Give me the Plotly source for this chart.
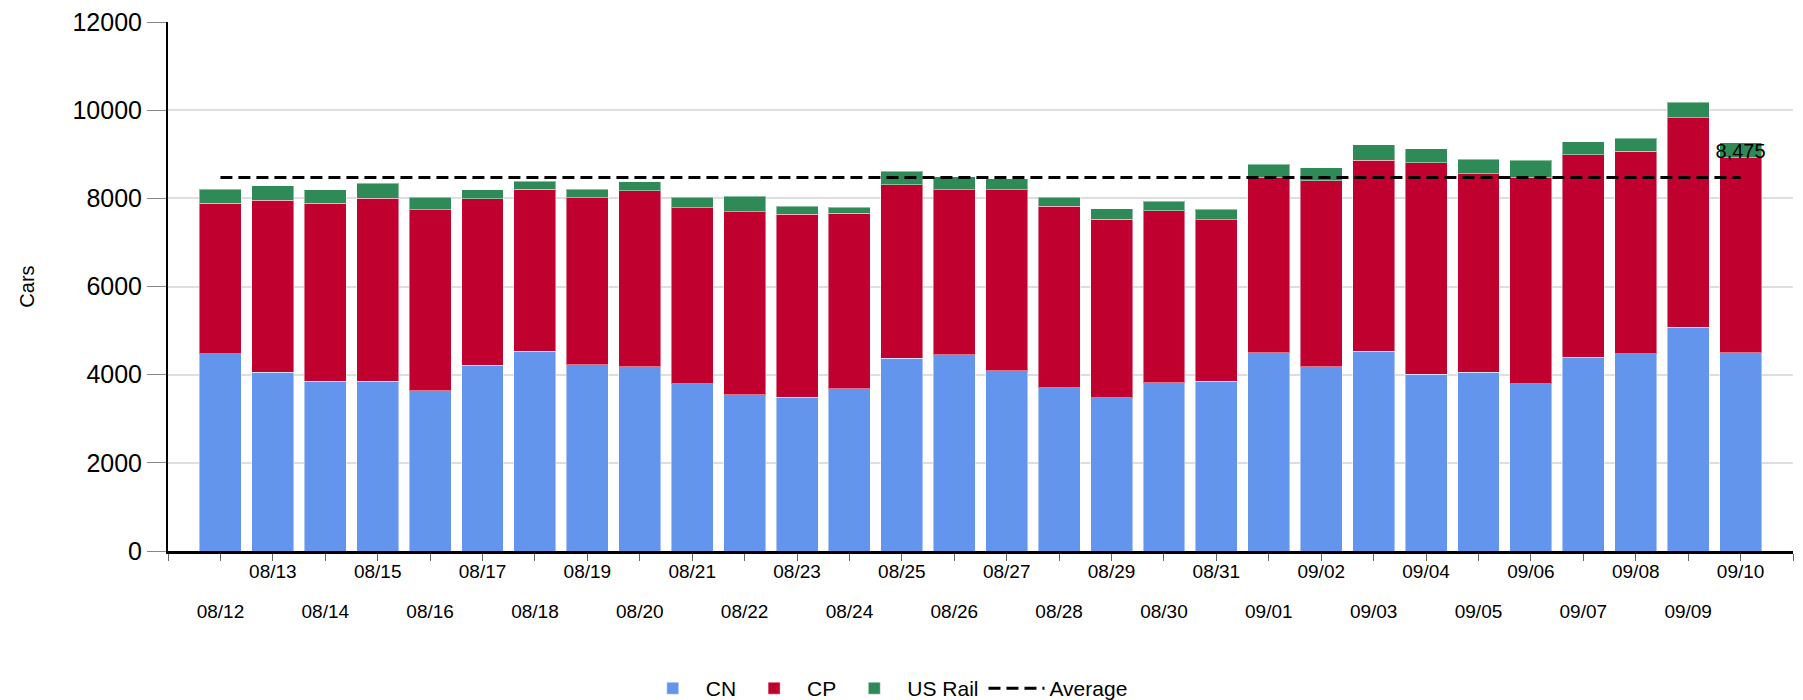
import plotly.graph_objects as go

dates = ["08/12", "08/13", "08/14", "08/15", "08/16", "08/17", "08/18", "08/19", "08/20", "08/21",
         "08/22", "08/23", "08/24", "08/25", "08/26", "08/27", "08/28", "08/29", "08/30", "08/31",
         "09/01", "09/02", "09/03", "09/04", "09/05", "09/06", "09/07", "09/08", "09/09", "09/10"]

cn = [4470, 4060, 3850, 3850, 3630, 4210, 4530, 4230, 4180, 3790,
      3550, 3490, 3680, 4370, 4450, 4090, 3700, 3480, 3820, 3850,
      4500, 4180, 4530, 4010, 4060, 3800, 4390, 4470, 5080, 4500]

cp = [3420, 3900, 4040, 4150, 4110, 3780, 3680, 3780, 3990, 4000,
      4150, 4150, 3980, 3940, 3750, 4110, 4120, 4050, 3900, 3660,
      3970, 4220, 4340, 4800, 4500, 4670, 4600, 4600, 4750, 4420]

us_rail = [320, 330, 310, 340, 280, 200, 180, 200, 210, 230,
           350, 180, 140, 300, 290, 240, 210, 230, 220, 240,
           300, 290, 350, 320, 330, 390, 300, 290, 350, 340]

average_value = 8475
average_label = "8,475"

y_ticks = [0, 2000, 4000, 6000, 8000, 10000, 12000]

FONT = "Arial, Liberation Sans, sans-serif"

idx = list(range(len(dates)))

fig = go.Figure()

bar_line = dict(color="rgba(255,255,255,0.45)", width=1)

fig.add_trace(go.Bar(x=idx, y=cn, name="CN", marker=dict(color="#6495ED", line=bar_line)))
fig.add_trace(go.Bar(x=idx, y=cp, name="CP", marker=dict(color="#C0002F", line=bar_line)))
fig.add_trace(go.Bar(x=idx, y=us_rail, name="US Rail", marker=dict(color="#2E8B57", line=bar_line)))

avg_text = [""] * (len(idx) - 1) + [average_label]
fig.add_trace(go.Scatter(
    x=idx, y=[average_value] * len(idx), name="Average", mode="lines+markers+text",
    xaxis="x2",
    line=dict(color="black", width=3, dash="12px,6px"),
    marker=dict(size=22, color="rgba(0,0,0,0)", line=dict(width=0)),
    text=avg_text, textposition="top center",
    textfont=dict(family=FONT, size=20, color="black"),
))

x_range = [-1, len(idx)]
even_vals = [i for i in idx if i % 2 == 0]

fig.update_layout(
    width=1795, height=692,
    margin=dict(l=160, r=10, t=14, b=149, autoexpand=False),
    paper_bgcolor="white", plot_bgcolor="white",
    barmode="stack", bargap=0.2,
    font=dict(family=FONT, color="black"),
    showlegend=True,
    legend=dict(orientation="h", x=0.442, xanchor="center", y=-0.26, yanchor="middle",
                traceorder="normal", itemwidth=56, font=dict(size=21, family=FONT)),
    xaxis=dict(
        range=x_range, tickmode="array",
        tickvals=list(range(-1, len(idx) + 1)),
        ticktext=["" if (i < 0 or i >= len(idx) or i % 2 == 0) else dates[i] for i in range(-1, len(idx) + 1)],
        ticks="outside", ticklen=7, tickcolor="#666", tickwidth=1,
        ticklabelstandoff=-6,
        showline=True, linecolor="black", linewidth=3,
        showgrid=False, zeroline=False,
        tickfont=dict(size=19, family=FONT, color="black"),
    ),
    xaxis2=dict(
        range=x_range, overlaying="x", side="bottom", anchor="y",
        tickmode="array", tickvals=even_vals, ticktext=[dates[i] for i in even_vals],
        ticks="", showline=False, showgrid=False, zeroline=False,
        ticklabelstandoff=47,
        tickfont=dict(size=19, family=FONT, color="black"),
    ),
    yaxis=dict(
        range=[0, 12001], tickmode="array", tickvals=y_ticks,
        ticktext=[str(v) for v in y_ticks],
        ticklabeloverflow="allow",
        ticks="outside", ticklen=19, tickcolor="#888", tickwidth=1,
        showline=True, linecolor="black", linewidth=2,
        showgrid=True, gridcolor="#dedede", gridwidth=2, zeroline=False,
        tickfont=dict(size=25, family=FONT, color="black"),
        title=dict(text="Cars", font=dict(size=20, family=FONT, color="black"), standoff=32),
    ),
)

fig.write_html("out.html")
